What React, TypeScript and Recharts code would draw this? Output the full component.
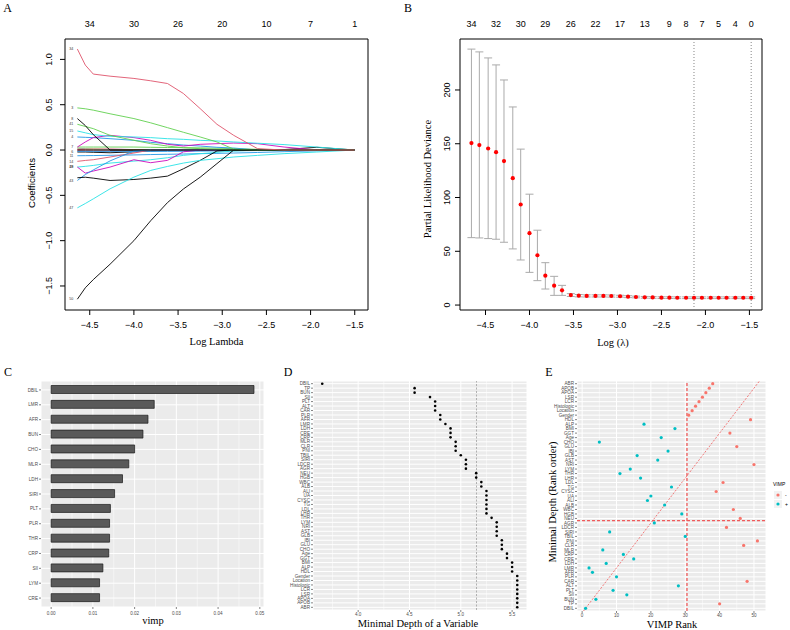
import React from 'react';
import {
  LineChart, Line, XAxis, YAxis, ReferenceArea, ReferenceLine,
  ScatterChart, Scatter, ErrorBar, BarChart, Bar, CartesianGrid,
} from 'recharts';

const SANS = '"Liberation Sans", Arial, Helvetica, sans-serif';
const SERIF = '"Liberation Serif", "Times New Roman", Times, serif';

// ---------------- Panel A : LASSO coefficient paths ----------------
const lassoLogLambda = [-4.64, -4.55, -4.46, -4.27, -4.0, -3.81, -3.62, -3.44, -3.25, -3.06, -2.87, -2.6, -2.3, -1.93, -1.5];
const coef34 = [1.114, 0.937, 0.838, 0.815, 0.79, 0.764, 0.734, 0.624, 0.457, 0.284, 0.162, 0.015, 0, 0, 0];
const coef50 = [-1.646, -1.52, -1.43, -1.26, -1.0, -0.78, -0.58, -0.43, -0.3, -0.15, 0, 0, 0, 0, 0];
const coef3 = [0.465, 0.455, 0.44, 0.4, 0.347, 0.3, 0.247, 0.196, 0.144, 0.089, 0.01, 0, 0, 0, 0];
const coef8 = [0.347, 0.27, 0.17, 0, 0, 0, 0, 0, 0, 0, 0, 0, 0, 0, 0];
const coef41 = [0.284, 0.26, 0.236, 0.162, 0.107, 0.07, 0.044, 0.025, 0.015, 0.008, 0, 0, 0, 0, 0];
const coef15 = [0.21, 0.19, 0.17, 0.151, 0.144, 0.137, 0.125, 0.118, 0.107, 0.1, 0.089, 0.075, 0.06, 0.033, 0];
const coef4 = [0.144, 0.14, 0.137, 0.125, 0.107, 0.085, 0.07, 0.055, 0.044, 0.03, 0.022, 0, 0, 0, 0];
const coef18 = [0.033, 0.089, 0.137, 0.162, 0.137, 0.107, 0.063, 0.044, 0.063, 0.07, 0.077, 0.07, 0.033, 0, 0];
const coef11 = [-0.063, -0.062, -0.061, -0.058, -0.054, -0.05, -0.047, -0.044, -0.04, -0.037, -0.033, -0.027, -0.018, -0.009, 0];
const coef14 = [-0.125, -0.115, -0.107, -0.077, -0.033, 0, 0, 0, 0, 0, 0, 0, 0, 0, 0];
const coef19 = [-0.188, -0.18, -0.17, -0.144, -0.122, -0.107, -0.085, -0.059, -0.04, -0.026, -0.011, 0, 0, 0, 0];
const coef48 = [-0.188, -0.255, -0.232, -0.188, -0.107, -0.14, -0.114, -0.02, 0, 0, 0, 0, 0, 0, 0];
const coef43 = [-0.336, -0.27, -0.22, -0.12, -0.01, 0, 0, 0, 0, 0, 0, 0, 0, 0, 0];
const coef42 = [-0.306, -0.3, -0.31, -0.336, -0.325, -0.31, -0.288, -0.207, -0.114, -0.01, 0, 0, 0, 0, 0];
const coef47 = [-0.638, -0.59, -0.539, -0.428, -0.299, -0.225, -0.181, -0.144, -0.114, -0.096, -0.077, -0.059, -0.04, -0.022, 0];
const coef1 = [-0.022, -0.022, -0.025, -0.03, -0.02, -0.01, -0.004, 0, 0, 0, 0, 0, 0, 0, 0];
const coef2 = [0.005, 0.008, 0.01, 0.01, 0.005, 0, 0, 0, 0, 0, 0, 0, 0, 0, 0];
const coef5 = [-0.008, -0.01, -0.01, -0.01, -0.008, -0.005, -0.002, 0, 0, 0, 0, 0, 0, 0, 0];
const coef6 = [-0.015, -0.015, -0.015, -0.015, -0.015, -0.015, -0.015, -0.014, -0.012, -0.01, -0.008, -0.006, -0.004, -0.002, 0];
const coef7 = [0.033, 0.033, 0.033, 0.033, 0.033, 0.03, 0.028, 0.026, 0.024, 0.02, 0.015, 0.008, 0, 0, 0];
const coef9 = [0.012, 0.012, 0.01, 0.008, 0.004, 0, 0, 0, 0, 0, 0, 0, 0, 0, 0];
const coef10 = [0.02, 0.015, 0.01, 0.005, 0, 0, 0, 0, 0, 0, 0, 0, 0, 0, 0];
const coef12 = [0, 0, 0, 0, 0, 0, 0, 0, 0, 0, 0, 0, 0.005, 0.03, 0];

const lassoXTicks = [-4.5, -4.0, -3.5, -3.0, -2.5, -2.0, -1.5];
const lassoTopLabels = ['34', '30', '26', '20', '10', '7', '1'];
const lassoYTicks = [-1.5, -1.0, -0.5, 0, 0.5, 1.0];

const lassoSeries = [
  { key: 'c1', label: '', color: '#000000', values: coef1 },
  { key: 'c2', label: '', color: '#CD0BBC', values: coef2 },
  { key: 'c5', label: '', color: '#DF536B', values: coef5 },
  { key: 'c6', label: '6', color: '#2297E6', values: coef6 },
  { key: 'c7', label: '7', color: '#61D04F', values: coef7 },
  { key: 'c9', label: '', color: '#F5C710', values: coef9 },
  { key: 'c10', label: '', color: '#9E9E9E', values: coef10 },
  { key: 'c12', label: '', color: '#000000', values: coef12 },
  { key: 'c11', label: '11', color: '#2297E6', values: coef11 },
  { key: 'c14', label: '14', color: '#DF536B', values: coef14 },
  { key: 'c19', label: '19', color: '#28E2E5', values: coef19 },
  { key: 'c48', label: '48', color: '#CD0BBC', values: coef48 },
  { key: 'c43', label: '43', color: '#2297E6', values: coef43 },
  { key: 'c42', label: '', color: '#000000', values: coef42 },
  { key: 'c47', label: '47', color: '#28E2E5', values: coef47 },
  { key: 'c4', label: '4', color: '#2297E6', values: coef4 },
  { key: 'c18', label: '', color: '#CD0BBC', values: coef18 },
  { key: 'c15', label: '15', color: '#28E2E5', values: coef15 },
  { key: 'c41', label: '41', color: '#61D04F', values: coef41 },
  { key: 'c8', label: '8', color: '#000000', values: coef8 },
  { key: 'c3', label: '3', color: '#61D04F', values: coef3 },
  { key: 'c50', label: '50', color: '#000000', values: coef50 },
  { key: 'c34', label: '34', color: '#DF536B', values: coef34 },
];

const lassoData = lassoLogLambda.map((x, i) => {
  const row: any = { x };
  lassoSeries.forEach((s) => { row[s.key] = s.values[i]; });
  return row;
});

// ---------------- Panel B : cross-validation ----------------
const cvLogLambda = [-4.66, -4.57, -4.47, -4.38, -4.29, -4.19, -4.10, -4.00, -3.91, -3.82, -3.72, -3.63, -3.53, -3.44, -3.35, -3.25, -3.16, -3.07, -2.97, -2.88, -2.79, -2.69, -2.60, -2.50, -2.41, -2.32, -2.22, -2.13, -2.04, -1.94, -1.85, -1.76, -1.66, -1.57, -1.48];
const cvMean = [150.6, 148.8, 145.6, 142.2, 133.9, 118.0, 93.5, 66.8, 46.3, 27.3, 18.0, 13.7, 9.3, 8.7, 8.5, 8.5, 8.5, 8.4, 8.2, 7.8, 7.5, 7.2, 7.1, 6.9, 6.9, 6.8, 6.8, 6.8, 6.8, 6.8, 6.8, 6.8, 6.8, 6.8, 6.8];
const cvUpper = [238.0, 235.4, 229.8, 223.3, 209.3, 184.2, 145.0, 103.1, 69.6, 39.4, 26.7, 18.3, 10.6, 9.8, 9.5, 9.5, 9.5, 9.4, 9.1, 8.7, 8.3, 8.0, 7.9, 7.7, 7.7, 7.6, 7.6, 7.6, 7.6, 7.6, 7.6, 7.6, 7.6, 7.6, 7.6];
const cvLower = [62.7, 62.4, 61.8, 61.2, 58.4, 52.2, 41.9, 30.4, 22.7, 14.9, 9.0, 9.0, 8.0, 7.6, 7.5, 7.5, 7.5, 7.4, 7.3, 6.9, 6.7, 6.4, 6.3, 6.1, 6.1, 6.0, 6.0, 6.0, 6.0, 6.0, 6.0, 6.0, 6.0, 6.0, 6.0];
const cvTopTicks = [-4.66, -4.38, -4.10, -3.82, -3.53, -3.25, -2.97, -2.69, -2.41, -2.22, -2.04, -1.85, -1.66, -1.48];
const cvTopLabels = ['34', '32', '30', '29', '26', '22', '17', '13', '9', '8', '7', '5', '4', '0'];
const cvYTicks = [0, 50, 100, 150, 200];
const lambdaMin = -2.13;
const lambda1se = -1.48;

const cvData = cvLogLambda.map((x, i) => ({
  x,
  y: cvMean[i],
  err: [cvMean[i] - cvLower[i], cvUpper[i] - cvMean[i]],
}));

// ---------------- Panel C : VIMP ----------------
const vimpNames = ['DBIL', 'LMR', 'AFR', 'BUN', 'CHO', 'MLR', 'LDH', 'SIRI', 'PLT', 'PLR', 'THR', 'CRP', 'SII', 'LYM', 'CRE'];
const vimpValues = [0.0486, 0.0247, 0.0232, 0.022, 0.02, 0.0186, 0.0171, 0.0152, 0.0142, 0.014, 0.014, 0.0138, 0.0124, 0.0116, 0.0116];
const vimpTicks = [0, 0.01, 0.02, 0.03, 0.04, 0.05];
const vimpMinor = [0.005, 0.015, 0.025, 0.035, 0.045];
const vimpData = vimpNames.map((name, i) => ({ name, vimp: vimpValues[i] }));

// ---------------- Panels D & E : minimal depth ----------------
const depthNames = ['DBIL', 'TP', 'BUN', 'SII', 'PLT', 'ALT', 'CAR', 'PLR', 'AFR', 'LMR', 'LDH', 'CRE', 'CRP', 'MLR', 'CLR', 'PNI', 'TBIL', 'SIRI', 'LDCR', 'AGR', 'NEU', 'HGB', 'WBC', 'ALB', 'ALI', 'UA', 'CYSC', 'TG', 'LDL', 'LHR', 'THR', 'LYM', 'NRI', 'AST', 'GLB', 'IBI', 'GLU', 'CHO', 'Age', 'GGT', 'BMI', 'ALP', 'HDL', 'Gender', 'Location', 'Histologic', 'LCR', 'LSR', 'APOA', 'APOB', 'ABR'];
const depthValues = [3.65, 4.55, 4.55, 4.7, 4.75, 4.75, 4.75, 4.8, 4.8, 4.85, 4.9, 4.9, 4.9, 4.95, 4.95, 4.95, 5.0, 5.05, 5.05, 5.05, 5.15, 5.15, 5.2, 5.2, 5.25, 5.25, 5.25, 5.25, 5.25, 5.25, 5.3, 5.35, 5.35, 5.35, 5.35, 5.4, 5.4, 5.4, 5.45, 5.45, 5.5, 5.5, 5.5, 5.55, 5.55, 5.55, 5.55, 5.55, 5.55, 5.55, 5.55];
const vimpRank = [1, 40, 4, 13, 9, 28, 48, 10, 3, 2, 7, 15, 12, 6, 47, 51, 30, 8, 42, 21, 46, 29, 44, 24, 19, 20, 39, 26, 41, 17, 11, 14, 50, 22, 16, 25, 45, 5, 23, 43, 27, 18, 49, 31, 32, 33, 34, 35, 36, 37, 38];
const depthThreshold = 5.153;
const positiveVimpCount = 30;
const depthBelowThreshold = 20;
const depthTicks = [4.0, 4.5, 5.0, 5.5];
const depthMinor = [3.75, 4.25, 4.75, 5.25];
const rankTicks = [0, 10, 20, 30, 40, 50];
const rankMinor = [5, 15, 25, 35, 45];

const depthPositions = depthNames.map((_, i) => i + 1);
const depthData = depthNames.map((name, i) => ({ name, depth: depthValues[i], pos: i + 1 }));
const rankData = depthNames.map((name, i) => ({ name, rank: vimpRank[i], pos: i + 1 }));
const rankPos = rankData.filter((d) => d.rank <= positiveVimpCount);
const rankNeg = rankData.filter((d) => d.rank > positiveVimpCount);

// ---------------- helpers ----------------
const fmtSigned = (v: number, d: number) => (v < 0 ? '\u2212' : '') + Math.abs(v).toFixed(d);

const RotYTick = (props: any) => {
  const { x, y, payload, digits } = props;
  return (
    <text x={x} y={y} transform={`rotate(-90 ${x} ${y})`} textAnchor="middle" fontSize={9} fontFamily={SANS} fill="#000">
      {fmtSigned(payload.value, digits)}
    </text>
  );
};

const makeLineLabel = (text: string) => (props: any) => {
  if (props.index !== 0 || !text) return <g />;
  return (
    <text x={props.x - 4} y={props.y} dy={1.2} fontSize={3.6} textAnchor="end" fill="#333" fontFamily={SANS}>
      {text}
    </text>
  );
};

const dotShape = (r: number, fill: string) => (p: any) => <circle cx={p.cx} cy={p.cy} r={r} fill={fill} />;
const noShape = () => <g />;

const rTick = { fontSize: 9, fill: '#000', fontFamily: SANS };
const ggTick = { fontSize: 4.6, fill: '#4D4D4D', fontFamily: SANS };
const ggTickLine = { stroke: '#333333', strokeWidth: 0.6 };

const Txt = ({ x, y, size, font, rotate, children }: any) => (
  <div
    style={{
      position: 'absolute', left: x, top: y,
      transform: `translate(-50%, -50%)${rotate ? ' rotate(-90deg)' : ''}`,
      fontSize: size, fontFamily: font, whiteSpace: 'nowrap', lineHeight: 1, color: '#000',
    }}
  >
    {children}
  </div>
);

// ---------------- panels ----------------
const A_X: [number, number] = [-4.78, -1.35];
const A_Y: [number, number] = [-1.765, 1.225];

function PanelA() {
  return (
    <LineChart width={395} height={350} data={lassoData} margin={{ top: 14, right: 27, bottom: 10, left: 35 }}>
      <XAxis type="number" dataKey="x" domain={A_X} allowDataOverflow ticks={lassoXTicks} interval={0}
        height={30} tickSize={5} tickMargin={7} axisLine={false} tickLine={{ stroke: '#000' }}
        tick={rTick} tickFormatter={(v: number) => fmtSigned(v, 1)} />
      <XAxis xAxisId="top" orientation="top" type="number" dataKey="x" domain={A_X} allowDataOverflow ticks={lassoXTicks} interval={0}
        height={25} tickSize={6} tickMargin={6} axisLine={false} tickLine={false}
        tick={rTick} tickFormatter={(_v: number, i: number) => lassoTopLabels[i]} />
      <YAxis type="number" domain={A_Y} allowDataOverflow ticks={lassoYTicks} interval={0}
        width={30} tickSize={5} tickMargin={8} axisLine={false} tickLine={{ stroke: '#000' }}
        tick={(p: any) => <RotYTick {...p} digits={1} />} />
      <ReferenceArea x1={A_X[0]} x2={A_X[1]} y1={A_Y[0]} y2={A_Y[1]} fill="none" stroke="#000" strokeWidth={1} fillOpacity={0} />
      <Line xAxisId="top" type="linear" dataKey="c34" stroke="none" dot={false} isAnimationActive={false} />
      {lassoSeries.map((s) => (
        <Line key={s.key} type="linear" dataKey={s.key} stroke={s.color} strokeWidth={0.9} dot={false}
          isAnimationActive={false} label={makeLineLabel(s.label)} />
      ))}
    </LineChart>
  );
}

const B_X: [number, number] = [-4.79, -1.357];
const B_Y: [number, number] = [-4.6, 247.4];

function PanelB() {
  return (
    <ScatterChart width={395} height={350} margin={{ top: 14, right: 28, bottom: 10, left: 35 }}>
      <XAxis type="number" dataKey="x" domain={B_X} allowDataOverflow ticks={lassoXTicks} interval={0}
        height={30} tickSize={5} tickMargin={7} axisLine={false} tickLine={{ stroke: '#000' }}
        tick={rTick} tickFormatter={(v: number) => fmtSigned(v, 1)} />
      <XAxis xAxisId="top" orientation="top" type="number" dataKey="x" domain={B_X} allowDataOverflow ticks={cvTopTicks} interval={0}
        height={25} tickSize={6} tickMargin={6} axisLine={false} tickLine={false}
        tick={rTick} tickFormatter={(_v: number, i: number) => cvTopLabels[i]} />
      <YAxis type="number" dataKey="y" domain={B_Y} allowDataOverflow ticks={cvYTicks} interval={0}
        width={30} tickSize={5} tickMargin={5} axisLine={false} tickLine={{ stroke: '#000' }}
        tick={(p: any) => <RotYTick {...p} digits={0} />} />
      <ReferenceArea x1={B_X[0]} x2={B_X[1]} y1={B_Y[0]} y2={B_Y[1]} fill="none" stroke="#000" strokeWidth={1} fillOpacity={0} />
      <ReferenceLine x={lambdaMin} stroke="#777" strokeDasharray="1 2" strokeWidth={0.9} />
      <ReferenceLine x={lambda1se} stroke="#777" strokeDasharray="1 2" strokeWidth={0.9} />
      <Scatter xAxisId="top" data={cvData} isAnimationActive={false} shape={noShape} />
      <Scatter data={cvData} fill="#FF0000" isAnimationActive={false} shape={dotShape(2.1, '#FF0000')}>
        <ErrorBar dataKey="err" direction="y" width={4} stroke="#AAAAAA" strokeWidth={1} />
      </Scatter>
    </ScatterChart>
  );
}

function PanelC() {
  return (
    <BarChart layout="vertical" width={280} height={260} data={vimpData} margin={{ top: 11, right: 16, bottom: 11, left: 5 }}>
      <CartesianGrid fill="#EBEBEB" stroke="#FFFFFF" strokeWidth={1} />
      <CartesianGrid horizontal={false} verticalValues={vimpMinor} stroke="#FFFFFF" strokeWidth={0.5} />
      <XAxis type="number" dataKey="vimp" domain={[-0.00243, 0.051]} allowDataOverflow ticks={vimpTicks} interval={0}
        height={12} tickSize={2} tickMargin={3} axisLine={false} tickLine={ggTickLine}
        tick={ggTick} tickFormatter={(v: number) => v.toFixed(2)} />
      <YAxis type="category" dataKey="name" width={36} interval={0} tickSize={2} tickMargin={1}
        axisLine={false} tickLine={ggTickLine} tick={ggTick} padding={{ top: 1.5, bottom: 1.5 }} />
      <Bar dataKey="vimp" fill="#595959" stroke="#1A1A1A" strokeWidth={0.7} barSize={8} isAnimationActive={false} />
    </BarChart>
  );
}

function PanelD() {
  return (
    <ScatterChart width={260} height={260} margin={{ top: 11, right: 13, bottom: 8, left: 3 }}>
      <CartesianGrid fill="#EBEBEB" stroke="#FFFFFF" strokeWidth={1} />
      <CartesianGrid horizontal={false} verticalValues={depthMinor} stroke="#FFFFFF" strokeWidth={0.5} />
      <XAxis type="number" dataKey="depth" domain={[3.56, 5.645]} allowDataOverflow ticks={depthTicks} interval={0}
        height={12} tickSize={2} tickMargin={1} axisLine={false} tickLine={ggTickLine}
        tick={ggTick} tickFormatter={(v: number) => v.toFixed(1)} />
      <YAxis type="number" dataKey="pos" reversed domain={[0.4, 51.6]} allowDataOverflow ticks={depthPositions} interval={0}
        width={30} tickSize={2} tickMargin={1} axisLine={false} tickLine={ggTickLine}
        tick={ggTick} tickFormatter={(v: number) => depthNames[v - 1]} />
      <ReferenceLine x={depthThreshold} stroke="#A0A0A0" strokeDasharray="2 1.5" strokeWidth={0.8} />
      <Scatter data={depthData} isAnimationActive={false} shape={dotShape(1.3, '#000000')} />
    </ScatterChart>
  );
}

const E_RED = '#F8766D';
const E_TEAL = '#00BFC4';
const E_LINE = '#F05A5A';

function PanelE() {
  return (
    <ScatterChart width={250} height={260} margin={{ top: 11, right: 24, bottom: 7, left: 5 }}>
      <CartesianGrid fill="#EBEBEB" stroke="#FFFFFF" strokeWidth={1} />
      <CartesianGrid horizontal={false} verticalValues={rankMinor} stroke="#FFFFFF" strokeWidth={0.5} />
      <XAxis type="number" dataKey="rank" domain={[-1.5, 53.5]} allowDataOverflow ticks={rankTicks} interval={0}
        height={12} tickSize={2} tickMargin={1} axisLine={false} tickLine={ggTickLine} tick={ggTick} />
      <YAxis type="number" dataKey="pos" domain={[0.4, 51.6]} allowDataOverflow ticks={depthPositions} interval={0}
        width={32} tickSize={2} tickMargin={1} axisLine={false} tickLine={ggTickLine}
        tick={ggTick} tickFormatter={(v: number) => depthNames[v - 1]} />
      <ReferenceLine segment={[{ x: 0.4, y: 0.4 }, { x: 51.6, y: 51.6 }]} stroke={E_LINE} strokeDasharray="2 1.5" strokeWidth={0.8} />
      <ReferenceLine x={positiveVimpCount + 0.5} stroke={E_LINE} strokeDasharray="3 2" strokeWidth={1.3} />
      <ReferenceLine y={depthBelowThreshold + 0.5} stroke={E_LINE} strokeDasharray="3 2" strokeWidth={1.3} />
      <Scatter data={rankPos} isAnimationActive={false} shape={dotShape(1.6, E_TEAL)} />
      <Scatter data={rankNeg} isAnimationActive={false} shape={dotShape(1.6, E_RED)} />
    </ScatterChart>
  );
}

const legendItems = [
  { label: '-', color: E_RED },
  { label: '+', color: E_TEAL },
];

function LegendE() {
  return (
    <svg width={20} height={36} style={{ position: 'absolute', left: 771, top: 479 }}>
      <text x={2} y={7} fontSize={5} fontFamily={SANS} fill="#000">VIMP</text>
      {legendItems.map((it, i) => (
        <g key={it.label}>
          <rect x={3} y={12 + i * 9} width={8} height={8} fill="#F2F2F2" />
          <circle cx={7} cy={16 + i * 9} r={1.6} fill={it.color} />
          <text x={14} y={17.8 + i * 9} fontSize={5} fontFamily={SANS} fill="#000">{it.label}</text>
        </g>
      ))}
    </svg>
  );
}

export default function App() {
  return (
    <div style={{ position: 'absolute', left: 0, top: 0, width: 790, height: 630, background: '#fff', overflow: 'hidden' }}>
      <div style={{ position: 'absolute', left: 0, top: 0 }}><PanelA /></div>
      <div style={{ position: 'absolute', left: 395, top: 0 }}><PanelB /></div>
      <div style={{ position: 'absolute', left: 0, top: 370 }}><PanelC /></div>
      <div style={{ position: 'absolute', left: 280, top: 370 }}><PanelD /></div>
      <div style={{ position: 'absolute', left: 540, top: 370 }}><PanelE /></div>
      <LegendE />

      <Txt x={7.5} y={7.5} size={12} font={SERIF}>A</Txt>
      <Txt x={408} y={7.5} size={12} font={SERIF}>B</Txt>
      <Txt x={8} y={372} size={12} font={SERIF}>C</Txt>
      <Txt x={288} y={372} size={12} font={SERIF}>D</Txt>
      <Txt x={549} y={372} size={12} font={SERIF}>E</Txt>

      <Txt x={32} y={183} size={9.6} font={SANS} rotate>Coefficients</Txt>
      <Txt x={216.5} y={342} size={10.5} font={SERIF}>Log Lambda</Txt>
      <Txt x={428} y={179} size={10.5} font={SERIF} rotate>Partial Likelihood Deviance</Txt>
      <Txt x={613} y={343} size={10.5} font={SERIF}>Log (λ)</Txt>
      <Txt x={153} y={621} size={10.5} font={SERIF}>vimp</Txt>
      <Txt x={418} y={624} size={10.5} font={SERIF}>Minimal Depth of a Variable</Txt>
      <Txt x={672} y={625} size={10.5} font={SERIF}>VIMP Rank</Txt>
      <Txt x={552.5} y={502} size={10.5} font={SERIF} rotate>Minimal Depth (Rank order)</Txt>
    </div>
  );
}
